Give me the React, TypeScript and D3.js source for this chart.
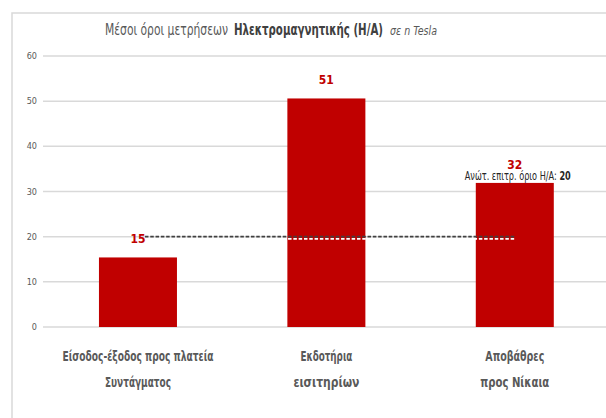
import React from "react";
import * as d3 from "d3";

const categories: string[][] = [
  ["Είσοδος-έξοδος προς πλατεία", "Συντάγματος"],
  ["Εκδοτήρια", "εισιτηρίων"],
  ["Αποβάθρες", "προς Νίκαια"],
];
const values: number[] = [15.4, 50.6, 31.9];
const limitValue = 20;
const limitLabel = "Ανώτ. επιτρ. όριο Η/Α: ";
const yTicks: number[] = [0, 10, 20, 30, 40, 50, 60];
const titleParts: string[] = ["Μέσοι όροι μετρήσεων", "Ηλεκτρομαγνητικής (Η/Α)", "σε n Tesla"];

const W = 606;
const H = 418;
const FONT = "'Liberation Sans Narrow', 'DejaVu Sans Condensed', 'Open Sans', sans-serif";
const GRAY = "#595959";
const RED = "#c00000";

const labelWidths: number[][] = [
  [151, 66],
  [52, 66],
  [59, 69],
];

export default function App() {
  const keys = categories.map((c) => c.join(" "));
  const x = d3
    .scaleBand<string>()
    .domain(keys)
    .range([43.75, 609])
    .paddingInner(0.586)
    .paddingOuter(0.293);
  const y = d3.scaleLinear().domain([0, 60]).range([327, 56]);
  const bw = x.bandwidth();
  const fmt = d3.format(".0f");
  const cx = (i: number) => (x(keys[i]) as number) + bw / 2;

  return (
    <svg width={W} height={H} style={{ position: "absolute", left: 0, top: 0 }} fontFamily={FONT}>
      <rect x={0} y={0} width={W} height={H} fill="#fff" />
      {/* frame */}
      <rect x={12} y={13} width={W + 20} height={H + 20} fill="none" stroke="#d9d9d9" strokeWidth={1.5} />
      {/* title */}
      <text x={105} y={35} fontSize={15} fill={GRAY} textLength={123} lengthAdjust="spacingAndGlyphs">
        {titleParts[0]}
      </text>
      <text x={234} y={35} fontSize={15} fontWeight="bold" fill="#404040" textLength={149} lengthAdjust="spacingAndGlyphs">
        {titleParts[1]}
      </text>
      <text x={390} y={35} fontSize={13} fontStyle="italic" fill={GRAY} textLength={47} lengthAdjust="spacingAndGlyphs">
        {titleParts[2]}
      </text>
      {/* grid + y ticks */}
      {yTicks.map((t) => (
        <g key={t}>
          <line x1={43} x2={W} y1={y(t)} y2={y(t)} stroke="#d9d9d9" strokeWidth={1.5} />
          <text x={37} y={y(t) + 3} fontSize={9} fill={GRAY} textAnchor="end">
            {t}
          </text>
        </g>
      ))}
      {/* bars */}
      {values.map((v, i) => (
        <rect key={i} x={x(keys[i])} y={y(v)} width={bw} height={y(0) - y(v)} fill={RED} />
      ))}
      {/* limit line */}
      <line
        x1={cx(0) + 7}
        x2={cx(2)}
        y1={y(limitValue) + 2.2}
        y2={y(limitValue) + 2.2}
        stroke="#ffffff"
        strokeWidth={1.6}
        strokeDasharray="3.5 1.8"
      />
      <line
        x1={cx(0) + 7}
        x2={cx(2)}
        y1={y(limitValue)}
        y2={y(limitValue)}
        stroke="#404040"
        strokeWidth={1.8}
        strokeDasharray="3.5 1.8"
      />
      {/* value labels */}
      {values.map((v, i) => (
        <text key={i} x={cx(i)} y={y(v) - 14} fontSize={12} fontWeight="bold" fill={RED} textAnchor="middle">
          {fmt(v)}
        </text>
      ))}
      {/* limit annotation */}
      <text x={cx(2) + 3} y={180} fontSize={12} fill="#262626" textAnchor="middle" textLength={106} lengthAdjust="spacingAndGlyphs">
        {limitLabel}
        <tspan fontWeight="bold">{limitValue}</tspan>
      </text>
      {/* x labels */}
      {categories.map((lines, i) =>
        lines.map((ln, j) => (
          <text
            key={i + "-" + j}
            x={cx(i)}
            y={361 + j * 26}
            fontSize={14}
            fontWeight="bold"
            fill={GRAY}
            textAnchor="middle"
            textLength={labelWidths[i][j]}
            lengthAdjust="spacingAndGlyphs"
          >
            {ln}
          </text>
        ))
      )}
    </svg>
  );
}
